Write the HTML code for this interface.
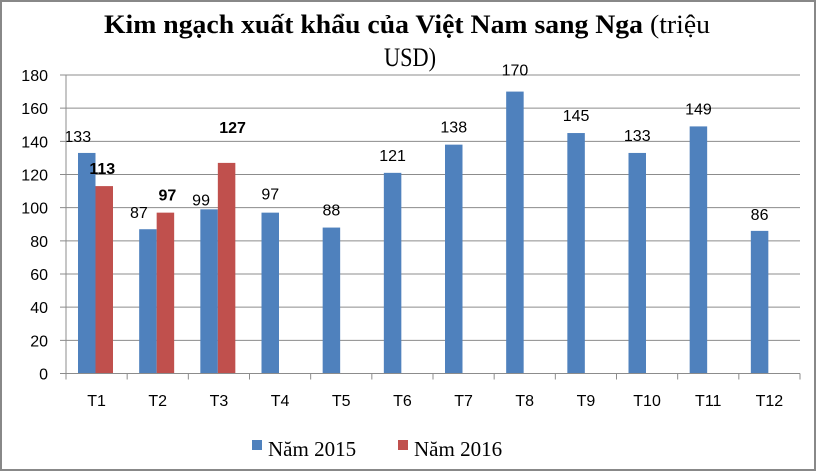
<!DOCTYPE html>
<html><head><meta charset="utf-8"><style>
html,body{margin:0;padding:0;background:#fff}
svg{display:block}
</style></head><body>
<svg id="chart" width="817" height="472" xmlns="http://www.w3.org/2000/svg">
<rect x="1" y="1" width="814" height="469" fill="#fff" stroke="#888" stroke-width="2"/>
<text x="407" y="33" text-anchor="middle" font-family="Liberation Serif, serif" font-size="26" textLength="606" lengthAdjust="spacingAndGlyphs"><tspan font-weight="bold">Kim ngạch xuất khẩu của Việt Nam sang Nga</tspan> (triệu</text>
<text x="410" y="66" text-anchor="middle" font-family="Liberation Serif, serif" font-size="26" textLength="52" lengthAdjust="spacingAndGlyphs">USD)</text>
<g id="grid"></g><g id="bars"></g><g id="labels"></g><g id="axes"></g>
<g>
<rect x="252" y="440" width="10" height="10" fill="#4f81bd"/>
<text x="268" y="456" font-family="Liberation Serif, serif" font-size="21">Năm 2015</text>
<rect x="398" y="440" width="10" height="10" fill="#c0504d"/>
<text x="414" y="456" font-family="Liberation Serif, serif" font-size="21">Năm 2016</text>
</g>
</svg>
<script>
const categories=["T1","T2","T3","T4","T5","T6","T7","T8","T9","T10","T11","T12"];
const values2015=[133,87,99,97,88,121,138,170,145,133,149,86];
const values2016=[113,97,127];
const yTicks=[0,20,40,60,80,100,120,140,160,180];
const NS="http://www.w3.org/2000/svg";
const x0=66,x1=800,y0=373.5,y1=75,yMax=180;
const cw=(x1-x0)/categories.length;
const yS=v=>y0-(v/yMax)*(y0-y1);
const xC=i=>x0+i*cw;
function mk(parent,tag,attrs,txt){const e=document.createElementNS(NS,tag);for(const k in attrs)e.setAttribute(k,attrs[k]);if(txt!==undefined)e.textContent=txt;document.getElementById(parent).appendChild(e);return e;}
const sans="Liberation Sans, sans-serif";
yTicks.forEach(t=>{
  const y=yS(t);
  const g=mk("grid","line",{x1:x0-6,x2:x1,y1:y,y2:y,stroke:"#8c8c8c","stroke-width":1});
  
  
  const l=mk("axes","text",{x:48,y:y+6,"text-anchor":"end","font-family":sans,"font-size":16},String(t));
  
  
});
const ya=mk("axes","line",{x1:x0,x2:x0,y1:y1,y2:y0,stroke:"#8c8c8c"});


for(let i=0;i<=categories.length;i++){
  const tk=mk("axes","line",{x1:xC(i),x2:xC(i),y1:y0,y2:y0+6,stroke:"#8c8c8c"});
  
  
}
const bw=17.5,off=12;
const lbl15dx=[-9,-9,-8,0,0,0,0,0,0,0,0,0];
const lbl15dy=[-11,-11,-4,-13,-12,-12,-12,-16,-12,-12,-12,-11];
const lbl16dx=[-2,2,6];
const lbl16dy=[-12,-12,-30];
categories.forEach((c,i)=>{
  const xl=mk("axes","text",{x:xC(i)+cw/2,y:406,"text-anchor":"middle","font-family":sans,"font-size":16},c);
  
  
  const v=values2015[i];
  const bx=xC(i)+off;
  const b=mk("bars","rect",{x:bx,y:yS(v),width:bw,height:y0-yS(v),fill:"#4f81bd"});
  
  
  const t=mk("labels","text",{x:bx+bw/2+lbl15dx[i],y:yS(v)+lbl15dy[i],"text-anchor":"middle","font-family":sans,"font-size":16},String(v));
  
  
  if(i<values2016.length){
    const w=values2016[i];
    const rx=bx+bw;
    const r=mk("bars","rect",{x:rx,y:yS(w),width:bw,height:y0-yS(w),fill:"#c0504d"});
    
    
    const t2=mk("labels","text",{x:rx+bw/2+lbl16dx[i],y:yS(w)+lbl16dy[i],"text-anchor":"middle","font-family":sans,"font-size":16,"font-weight":"bold"},String(w));
    
    
  }
});
const xa=mk("axes","line",{x1:x0,x2:x1,y1:y0,y2:y0,stroke:"#8c8c8c"});


</script>
</body></html>
